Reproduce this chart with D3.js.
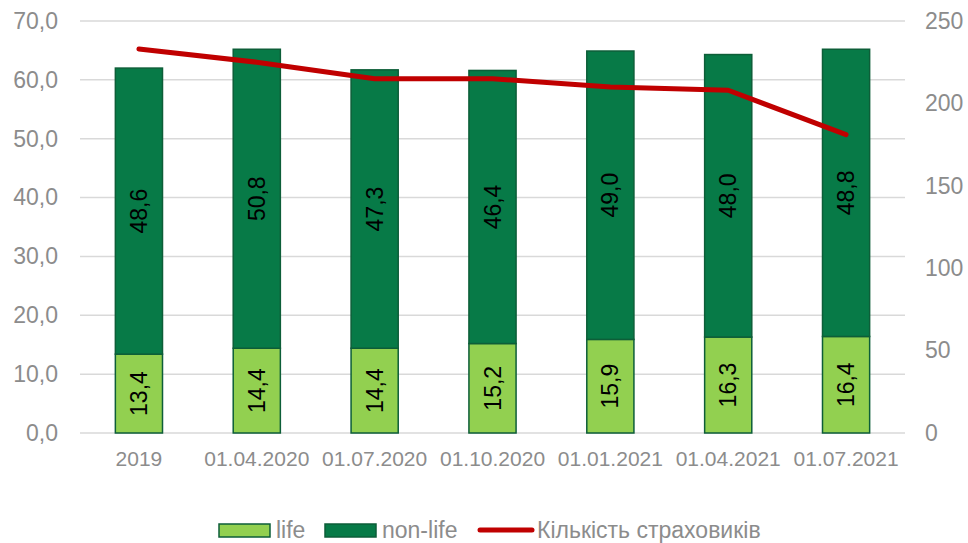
<!DOCTYPE html>
<html>
<head>
<meta charset="utf-8">
<script src="https://cdn.jsdelivr.net/npm/d3@7"></script>
<style>
  body { margin: 0; background: #fff; }
  text { font-family: "Liberation Sans", Arial, sans-serif; }
</style>
</head>
<body>
<script>
var categories = ["2019", "01.04.2020", "01.07.2020", "01.10.2020", "01.01.2021", "01.04.2021", "01.07.2021"];
var lifeValues = [13.4, 14.4, 14.4, 15.2, 15.9, 16.3, 16.4];
var nonLifeValues = [48.6, 50.8, 47.3, 46.4, 49.0, 48.0, 48.8];
var insurerCounts = [233, 225, 215, 215, 210, 208, 181];
var leftTicks = [0, 10, 20, 30, 40, 50, 60, 70];
var rightTicks = [0, 50, 100, 150, 200, 250];

var screen = { width: 968, height: 543 };
var margins = { left: 80, right: 63, top: 21, bottom: 110 };
var width = screen.width - margins.left - margins.right;
var height = screen.height - margins.top - margins.bottom;

var svg = d3.select("body").append("svg")
            .attr("width", screen.width)
            .attr("height", screen.height);

var g = svg.append("g")
           .attr("transform", "translate(" + margins.left + "," + margins.top + ")");

var xScale = d3.scaleBand().domain(categories).range([0, width]).paddingInner(0.6).paddingOuter(0.3);
var yLeft = d3.scaleLinear().domain([0, 70]).range([height, 0]);
var yRight = d3.scaleLinear().domain([0, 250]).range([height, 0]);

var comma = function(d) { return d3.format(".1f")(d).replace(".", ","); };

// gridlines
g.append("g").selectAll("line")
 .data(leftTicks)
 .enter().append("line")
 .attr("x1", 0).attr("x2", width)
 .attr("y1", function(d) { return yLeft(d); })
 .attr("y2", function(d) { return yLeft(d); })
 .attr("stroke", "#d9d9d9")
 .attr("stroke-width", 1.5);

// left axis
var leftAxis = g.append("g")
  .call(d3.axisLeft(yLeft).tickValues(leftTicks).tickSize(0).tickPadding(22).tickFormat(comma));
leftAxis.select(".domain").remove();
leftAxis.selectAll("text").attr("font-size", 23).attr("fill", "#8c8c8c")
        .style("font-family", "Liberation Sans, Arial, sans-serif");

// right axis
var rightAxis = g.append("g")
  .attr("transform", "translate(" + width + ",0)")
  .call(d3.axisRight(yRight).tickValues(rightTicks).tickSize(0).tickPadding(20));
rightAxis.select(".domain").remove();
rightAxis.selectAll("text").attr("font-size", 23).attr("fill", "#8c8c8c")
         .style("font-family", "Liberation Sans, Arial, sans-serif");

// bottom axis
var bottomAxis = g.append("g")
  .attr("transform", "translate(0," + height + ")")
  .call(d3.axisBottom(xScale).tickSize(0).tickPadding(18));
bottomAxis.select(".domain").remove();
bottomAxis.selectAll("text").attr("font-size", 21).attr("fill", "#8c8c8c")
          .style("font-family", "Liberation Sans, Arial, sans-serif");

// stacked bars
var stackData = categories.map(function(c, i) {
  return { cat: c, life: lifeValues[i], nonlife: nonLifeValues[i] };
});
var series = d3.stack().keys(["life", "nonlife"])(stackData);
var colors = { life: "#92d050", nonlife: "#077a47" };

var layers = g.selectAll(".layer")
  .data(series)
  .enter().append("g")
  .attr("class", "layer")
  .attr("fill", function(d) { return colors[d.key]; });

layers.selectAll("rect")
  .data(function(d) { return d; })
  .enter().append("rect")
  .attr("x", function(d) { return xScale(d.data.cat); })
  .attr("width", xScale.bandwidth())
  .attr("y", function(d) { return yLeft(d[1]); })
  .attr("height", function(d) { return yLeft(d[0]) - yLeft(d[1]); })
  .attr("stroke", "#0d5e38")
  .attr("stroke-width", 1.5);

// value labels
layers.selectAll("text")
  .data(function(d) { return d; })
  .enter().append("text")
  .attr("transform", function(d) {
    var cx = xScale(d.data.cat) + xScale.bandwidth() / 2;
    var cy = (yLeft(d[0]) + yLeft(d[1])) / 2;
    return "translate(" + cx + "," + cy + ") rotate(-90)";
  })
  .attr("text-anchor", "middle")
  .attr("dy", "0.35em")
  .attr("font-size", 23)
  .attr("fill", "#000")
  .text(function(d) { return comma(d[1] - d[0]); });

// line
var line = d3.line()
  .x(function(d, i) { return xScale(categories[i]) + xScale.bandwidth() / 2; })
  .y(function(d) { return yRight(d); });

g.append("path")
 .datum(insurerCounts)
 .attr("d", line)
 .attr("fill", "none")
 .attr("stroke", "#c00000")
 .attr("stroke-width", 5)
 .attr("stroke-linecap", "round")
 .attr("stroke-linejoin", "round");

// legend
var legend = svg.append("g").attr("transform", "translate(0,530)");
legend.append("rect").attr("x", 219).attr("y", -6).attr("width", 51).attr("height", 13)
      .attr("fill", colors.life).attr("stroke", "#0d5e38").attr("stroke-width", 1.5);
legend.append("text").attr("x", 276).attr("y", 0).attr("dy", "0.35em")
      .attr("font-size", 23).attr("fill", "#8c8c8c").text("life");
legend.append("rect").attr("x", 325).attr("y", -6).attr("width", 51).attr("height", 13)
      .attr("fill", colors.nonlife).attr("stroke", "#0d5e38").attr("stroke-width", 1.5);
legend.append("text").attr("x", 382).attr("y", 0).attr("dy", "0.35em")
      .attr("font-size", 23).attr("fill", "#8c8c8c").text("non-life");
legend.append("line").attr("x1", 480).attr("x2", 532).attr("y1", 0).attr("y2", 0)
      .attr("stroke", "#c00000").attr("stroke-width", 5).attr("stroke-linecap", "round");
legend.append("text").attr("x", 537).attr("y", 0).attr("dy", "0.35em")
      .attr("font-size", 23).attr("fill", "#8c8c8c").text("Кількість страховиків");
</script>
</body>
</html>
